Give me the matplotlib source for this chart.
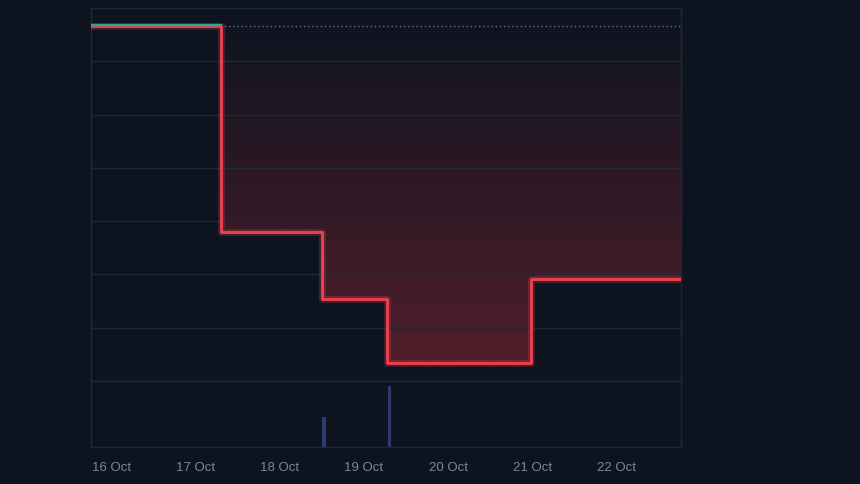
import matplotlib
matplotlib.use("Agg")
import matplotlib.pyplot as plt
import matplotlib.dates as mdates
import numpy as np
import pandas as pd

# step series (value holds until next time)
step_times = ["2024-10-15 18:15", "2024-10-17 07:10", "2024-10-18 12:05",
              "2024-10-19 06:35", "2024-10-20 23:35"]
step_values = [6.67, 2.80, 1.54, 0.34, 1.91]
end_time = "2024-10-22 18:15"
baseline = 6.67

vol_times = ["2024-10-18 12:35", "2024-10-19 07:15"]
vol_values = [30, 61]

tick_days = pd.date_range("2024-10-16", "2024-10-22", freq="D")

bg = "#0d1420"
frame = "#1f2935"
grid_c = "#1f2834"
red = "#e8424f"
green = "#22ab94"

plt.rcParams["font.family"] = ["Liberation Sans", "DejaVu Sans"]

fig = plt.figure(figsize=(8.6, 4.84), dpi=100, facecolor=bg)
ax = fig.add_axes([91 / 860, (484 - 381) / 484, 590 / 860, 373 / 484])
axv = fig.add_axes([91 / 860, (484 - 447) / 484, 590 / 860, 66 / 484], sharex=ax)

for a in (ax, axv):
    a.set_facecolor(bg)
    for s in a.spines.values():
        s.set_color(frame)
        s.set_linewidth(1)

x = mdates.date2num(pd.to_datetime(step_times + [end_time]))
y = np.array(step_values + [step_values[-1]])

# gradient fill between line and baseline
poly = ax.fill_between(x, y, baseline, step="post", facecolor="none", edgecolor="none")
ymin = y.min()
n = 256
alphas = np.linspace(0.30, 0.01, n)
rgb = np.array(matplotlib.colors.to_rgb("#f23645"))
img = np.zeros((n, 1, 4))
img[:, 0, :3] = rgb
img[:, 0, 3] = alphas
im = ax.imshow(img, extent=[x[0], x[-1], ymin, baseline], origin="lower",
               aspect="auto", zorder=1, interpolation="bilinear")
im.set_clip_path(poly.get_paths()[0], transform=ax.transData)

ax.axhline(baseline, color="#6b7380", ls=(0, (1, 2)), lw=1, zorder=2)

# glow + line
ax.step(x, y, where="post", color=red, lw=5, alpha=0.25, zorder=3)
ax.step(x, y, where="post", color=red, lw=2.1, zorder=4)
ax.plot(x[:2], [baseline + 0.02] * 2, color=green, lw=1.6, zorder=5)

ax.set_xlim(x[0], x[-1])
ax.set_ylim(0, 7)
ax.set_yticks(range(1, 7))
ax.grid(axis="y", color=grid_c, lw=1)
ax.grid(axis="x", visible=False)
ax.tick_params(left=False, labelleft=False, bottom=False, labelbottom=False)

# volume pane
vx = mdates.date2num(pd.to_datetime(vol_times))
axv.bar(vx, vol_values, width=0.04, color="#2c3a6c", zorder=2)
axv.set_ylim(0, 66)
axv.set_xticks(mdates.date2num(tick_days))
axv.xaxis.set_major_formatter(mdates.DateFormatter("%-d %b"))
axv.tick_params(left=False, labelleft=False, length=0, pad=11,
                labelcolor="#7f8793", labelsize=9.5)
axv.set_xlim(x[0], x[-1])

fig.savefig("out.png", dpi=100, facecolor=bg)
